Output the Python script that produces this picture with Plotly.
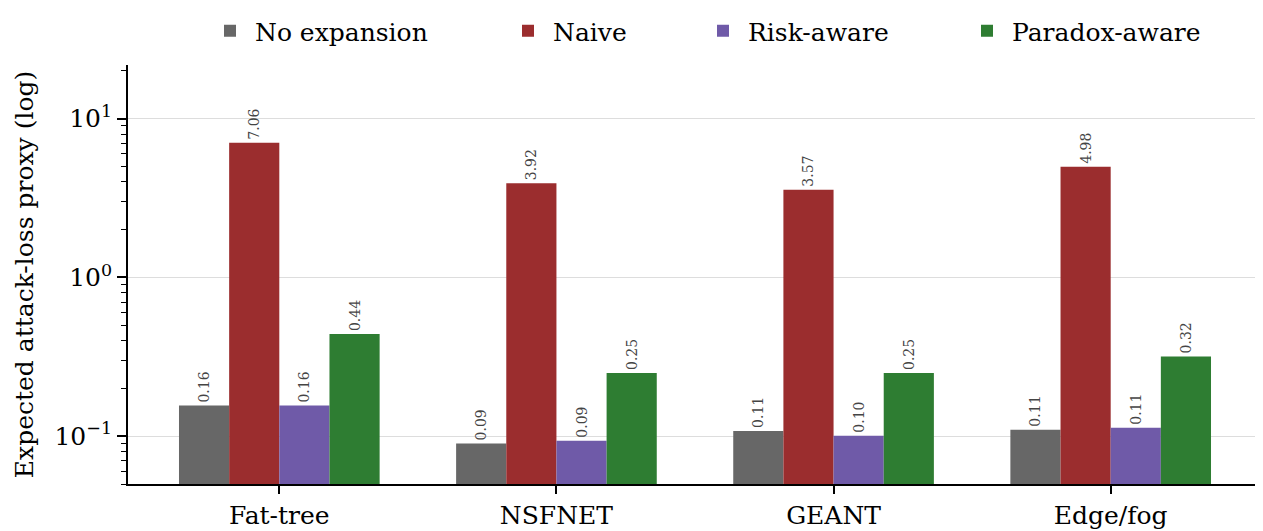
import plotly.graph_objects as go
import numpy as np

categories = ["Fat-tree", "NSFNET", "GEANT", "Edge/fog"]
series_names = ["No expansion", "Naive", "Risk-aware", "Paradox-aware"]
no_expansion = [0.156, 0.090, 0.108, 0.110]
naive = [7.06, 3.92, 3.57, 4.98]
risk_aware = [0.156, 0.0937, 0.1007, 0.113]
paradox_aware = [0.44, 0.25, 0.25, 0.318]
colors = ["#676767", "#9B2D2E", "#6F5AA8", "#2E7D32"]

major_ticks = [0.1, 1, 10]
major_labels = ["10<sup>−1</sup>", "10<sup>0</sup>", "10<sup>1</sup>"]

FONT = "DejaVu Serif"
FS = 25
FIG_W, FIG_H = 1255, 523
# left edge (figure px) of each legend entry
legend_left_px = [197, 495, 690, 954]

fig = go.Figure()
legend_ids = ["legend", "legend2", "legend3", "legend4"]
for name, vals, col, lid in zip(series_names, [no_expansion, naive, risk_aware, paradox_aware], colors, legend_ids):
    fig.add_trace(go.Bar(
        name=name, x=categories, y=vals, marker=dict(color=col, line=dict(width=0)),
        texttemplate="%{y:.2f}", textposition="outside", textangle=-90,
        textfont=dict(family=FONT, size=14, color="#444444"),
        cliponaxis=False, legend=lid, showlegend=True,
    ))

minor_vals = [m * 10.0 ** e for e in (-2, -1, 0, 1) for m in range(2, 10)]

legend_style = dict(orientation="h", xanchor="left", xref="container",
                    y=1.0, yanchor="top", yref="container",
                    font=dict(family=FONT, size=FS), itemwidth=40, bgcolor="rgba(0,0,0,0)")

fig.update_layout(
    width=FIG_W, height=FIG_H,
    margin=dict(l=120, r=1, t=57, b=45),
    paper_bgcolor="white", plot_bgcolor="white",
    barmode="group", bargap=0.276, bargroupgap=0,
    font=dict(family=FONT, size=FS, color="black"),
    showlegend=True,
    legend=dict(legend_style, x=legend_left_px[0] / FIG_W),
    legend2=dict(legend_style, x=legend_left_px[1] / FIG_W),
    legend3=dict(legend_style, x=legend_left_px[2] / FIG_W),
    legend4=dict(legend_style, x=legend_left_px[3] / FIG_W),
)

fig.update_xaxes(
    range=[-0.546, 3.546], showline=True, linecolor="black", linewidth=1.8,
    ticks="outside", ticklen=8, tickwidth=1.5, tickcolor="black",
    tickfont=dict(family=FONT, size=FS), showgrid=False, zeroline=False,
)
fig.update_yaxes(
    type="log", range=[np.log10(0.05), np.log10(21.8)],
    tickmode="array", tickvals=major_ticks, ticktext=major_labels,
    showline=True, linecolor="black", linewidth=1.8,
    ticks="outside", ticklen=9, tickwidth=1.5, tickcolor="black",
    tickfont=dict(family=FONT, size=FS),
    showgrid=True, gridcolor="#dddddd", gridwidth=1.2, zeroline=False,
    minor=dict(tickmode="array", tickvals=minor_vals, ticks="outside", ticklen=5,
               tickwidth=1.2, tickcolor="black", showgrid=False),
    title=dict(text="Expected attack-loss proxy (log)", font=dict(family=FONT, size=FS), standoff=14),
)

fig.write_html("out.html")
